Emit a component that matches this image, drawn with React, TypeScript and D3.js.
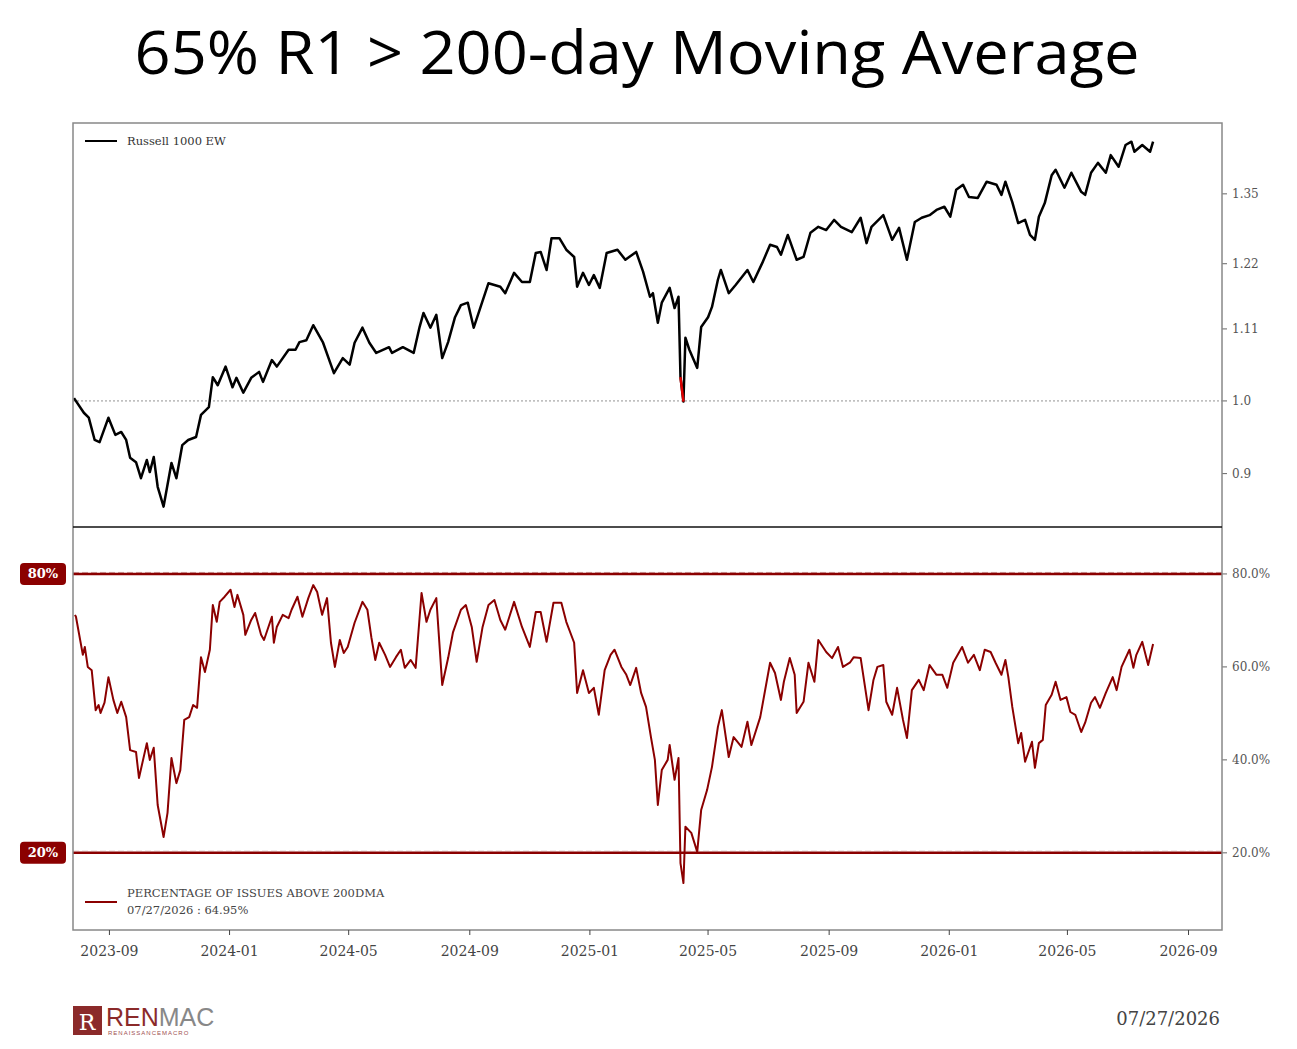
import * as d3 from 'd3';

const r1Dates = ['2023-07-27','2023-08-06','2023-08-11','2023-08-17','2023-08-22','2023-08-31','2023-09-07','2023-09-13','2023-09-18','2023-09-22','2023-09-28','2023-10-03','2023-10-09','2023-10-12','2023-10-16','2023-10-20','2023-10-26','2023-11-03','2023-11-08','2023-11-14','2023-11-20','2023-11-28','2023-12-03','2023-12-11','2023-12-15','2023-12-20','2023-12-28','2024-01-04','2024-01-08','2024-01-15','2024-01-23','2024-01-31','2024-02-04','2024-02-13','2024-02-18','2024-03-01','2024-03-08','2024-03-12','2024-03-19','2024-03-26','2024-04-05','2024-04-16','2024-04-25','2024-05-02','2024-05-07','2024-05-15','2024-05-22','2024-05-29','2024-06-11','2024-06-14','2024-06-25','2024-07-06','2024-07-12','2024-07-16','2024-07-23','2024-07-29','2024-08-04','2024-08-10','2024-08-17','2024-08-23','2024-08-30','2024-09-05','2024-09-12','2024-09-20','2024-10-02','2024-10-07','2024-10-16','2024-10-24','2024-11-01','2024-11-07','2024-11-12','2024-11-18','2024-11-23','2024-12-01','2024-12-08','2024-12-16','2024-12-19','2024-12-25','2024-12-31','2025-01-05','2025-01-11','2025-01-18','2025-01-29','2025-02-06','2025-02-17','2025-02-24','2025-03-03','2025-03-06','2025-03-11','2025-03-15','2025-03-23','2025-03-28','2025-04-01','2025-04-03','2025-04-06','2025-04-08','2025-04-12','2025-04-20','2025-04-24','2025-05-01','2025-05-05','2025-05-11','2025-05-14','2025-05-22','2025-05-29','2025-06-10','2025-06-16','2025-06-25','2025-07-03','2025-07-10','2025-07-14','2025-07-21','2025-07-30','2025-08-06','2025-08-13','2025-08-21','2025-08-29','2025-09-06','2025-09-13','2025-09-24','2025-10-03','2025-10-09','2025-10-14','2025-10-26','2025-11-04','2025-11-11','2025-11-19','2025-11-27','2025-12-04','2025-12-12','2025-12-19','2025-12-27','2026-01-02','2026-01-08','2026-01-15','2026-01-21','2026-01-30','2026-02-08','2026-02-18','2026-02-23','2026-02-27','2026-03-06','2026-03-12','2026-03-19','2026-03-24','2026-03-29','2026-04-02','2026-04-08','2026-04-15','2026-04-19','2026-04-28','2026-05-05','2026-05-15','2026-05-19','2026-05-25','2026-06-01','2026-06-09','2026-06-14','2026-06-22','2026-06-29','2026-07-05','2026-07-08','2026-07-16','2026-07-24','2026-07-27'];
const r1Values = [1.004,0.983,0.976,0.945,0.942,0.976,0.952,0.956,0.945,0.921,0.915,0.894,0.918,0.902,0.922,0.883,0.858,0.914,0.894,0.938,0.945,0.949,0.980,0.991,1.035,1.023,1.051,1.020,1.034,1.012,1.034,1.043,1.028,1.061,1.051,1.077,1.077,1.089,1.092,1.116,1.088,1.041,1.064,1.054,1.088,1.112,1.088,1.072,1.081,1.072,1.081,1.072,1.113,1.136,1.112,1.133,1.064,1.089,1.129,1.149,1.153,1.112,1.146,1.186,1.180,1.169,1.204,1.188,1.188,1.239,1.241,1.209,1.266,1.266,1.245,1.232,1.180,1.204,1.183,1.200,1.178,1.239,1.245,1.227,1.241,1.206,1.163,1.169,1.120,1.153,1.178,1.144,1.163,1.035,0.999,1.096,1.077,1.049,1.113,1.129,1.146,1.192,1.209,1.169,1.183,1.209,1.188,1.221,1.254,1.250,1.236,1.272,1.227,1.232,1.276,1.287,1.281,1.300,1.287,1.277,1.304,1.257,1.287,1.309,1.263,1.285,1.227,1.296,1.304,1.309,1.319,1.325,1.306,1.358,1.368,1.344,1.342,1.374,1.368,1.348,1.374,1.334,1.294,1.300,1.272,1.263,1.306,1.332,1.387,1.398,1.362,1.392,1.354,1.348,1.392,1.412,1.392,1.428,1.404,1.449,1.456,1.435,1.449,1.435,1.456];

const pctDates = ['2023-07-28','2023-07-29','2023-08-05','2023-08-07','2023-08-10','2023-08-14','2023-08-18','2023-08-21','2023-08-23','2023-08-27','2023-08-31','2023-09-05','2023-09-09','2023-09-13','2023-09-18','2023-09-22','2023-09-28','2023-10-01','2023-10-09','2023-10-12','2023-10-16','2023-10-20','2023-10-26','2023-10-30','2023-11-03','2023-11-08','2023-11-12','2023-11-16','2023-11-21','2023-11-25','2023-11-29','2023-12-03','2023-12-07','2023-12-12','2023-12-15','2023-12-19','2023-12-22','2023-12-27','2024-01-02','2024-01-06','2024-01-09','2024-01-15','2024-01-17','2024-01-23','2024-01-27','2024-02-02','2024-02-05','2024-02-13','2024-02-15','2024-02-18','2024-02-24','2024-03-01','2024-03-04','2024-03-10','2024-03-15','2024-03-21','2024-03-26','2024-03-30','2024-04-04','2024-04-09','2024-04-13','2024-04-17','2024-04-22','2024-04-26','2024-04-30','2024-05-07','2024-05-15','2024-05-20','2024-05-24','2024-05-28','2024-06-01','2024-06-07','2024-06-12','2024-06-18','2024-06-23','2024-06-27','2024-07-03','2024-07-08','2024-07-14','2024-07-19','2024-07-23','2024-07-29','2024-08-04','2024-08-10','2024-08-15','2024-08-23','2024-08-28','2024-09-03','2024-09-08','2024-09-14','2024-09-20','2024-09-26','2024-10-02','2024-10-07','2024-10-16','2024-10-24','2024-11-01','2024-11-07','2024-11-12','2024-11-18','2024-11-25','2024-12-03','2024-12-08','2024-12-16','2024-12-19','2024-12-25','2024-12-31','2025-01-05','2025-01-10','2025-01-16','2025-01-22','2025-01-26','2025-02-02','2025-02-07','2025-02-11','2025-02-17','2025-02-22','2025-02-27','2025-03-04','2025-03-08','2025-03-11','2025-03-15','2025-03-21','2025-03-23','2025-03-28','2025-04-01','2025-04-03','2025-04-06','2025-04-08','2025-04-14','2025-04-20','2025-04-24','2025-04-30','2025-05-05','2025-05-11','2025-05-15','2025-05-22','2025-05-27','2025-06-04','2025-06-10','2025-06-14','2025-06-23','2025-07-03','2025-07-08','2025-07-14','2025-07-17','2025-07-23','2025-07-28','2025-07-30','2025-08-06','2025-08-11','2025-08-17','2025-08-21','2025-08-29','2025-09-04','2025-09-10','2025-09-15','2025-09-22','2025-09-26','2025-10-03','2025-10-11','2025-10-16','2025-10-20','2025-10-26','2025-10-29','2025-11-04','2025-11-09','2025-11-15','2025-11-19','2025-11-24','2025-12-01','2025-12-06','2025-12-12','2025-12-19','2025-12-25','2025-12-30','2026-01-05','2026-01-14','2026-01-20','2026-01-26','2026-02-01','2026-02-06','2026-02-12','2026-02-17','2026-02-23','2026-02-27','2026-03-02','2026-03-06','2026-03-12','2026-03-15','2026-03-19','2026-03-26','2026-03-29','2026-04-02','2026-04-06','2026-04-09','2026-04-15','2026-04-19','2026-04-24','2026-04-30','2026-05-04','2026-05-09','2026-05-15','2026-05-19','2026-05-25','2026-05-29','2026-06-03','2026-06-09','2026-06-16','2026-06-20','2026-06-25','2026-07-03','2026-07-07','2026-07-10','2026-07-16','2026-07-22','2026-07-27'];
const pctValues = [71.2,70.8,62.6,64.3,60.0,59.3,50.7,51.8,50.1,52.3,57.8,52.9,50.1,52.5,49.2,42.1,41.7,36.1,43.6,40.0,42.6,30.3,23.4,28.6,40.4,35.0,37.8,48.6,49.2,51.8,51.2,62.1,58.9,63.7,73.3,69.7,74.0,75.1,76.6,72.9,75.5,71.2,66.9,70.1,71.6,66.9,65.8,70.8,65.2,68.6,71.2,70.5,72.3,75.1,70.8,74.8,77.6,76.1,71.2,74.8,65.2,60.0,65.8,63.0,64.3,69.5,74.0,72.3,66.4,61.5,65.2,62.6,60.0,62.1,63.7,59.8,61.5,59.8,75.9,69.7,72.3,74.8,56.1,61.9,67.5,72.3,73.3,68.6,61.1,68.6,73.3,74.4,70.1,68.0,74.0,68.6,64.3,71.8,71.8,65.4,73.8,73.8,69.7,65.2,54.4,59.3,54.4,55.5,49.7,59.3,62.6,63.7,60.0,58.3,56.1,59.8,54.4,51.4,44.9,40.0,30.3,37.8,40.0,43.2,35.7,40.4,17.8,13.5,25.6,24.3,20.2,29.2,33.5,38.5,47.1,50.7,40.6,44.9,42.8,48.2,43.2,49.2,60.9,58.7,52.9,56.8,61.9,58.3,50.1,52.5,60.9,56.8,65.8,63.2,61.9,64.3,60.0,60.9,62.1,61.9,50.7,57.2,60.0,60.4,52.5,49.7,55.5,48.6,44.7,55.0,57.2,55.0,60.4,58.3,58.3,55.5,60.9,64.3,60.9,62.6,59.3,63.7,63.2,60.9,58.3,61.5,57.8,51.4,43.6,45.8,39.6,43.9,38.3,43.6,44.3,51.8,54.0,56.8,52.9,53.5,50.3,49.7,46.0,48.0,52.3,53.5,51.2,54.4,57.8,55.0,60.0,63.7,59.8,62.6,65.4,60.4,64.95];

const r1Ticks = [0.9, 1.0, 1.11, 1.22, 1.35];
const r1TickLabels = ['0.9', '1.0', '1.11', '1.22', '1.35'];
const pctTicks = [20, 40, 60, 80];
const bands = [20, 80];
const xTicks = ['2023-09-01','2024-01-01','2024-05-01','2024-09-01','2025-01-01','2025-05-01','2025-09-01','2026-01-01','2026-05-01','2026-09-01'];

const serif = "'DejaVu Serif', 'Liberation Serif', serif";
const red = '#8b0000';

export default function App() {
  const L = 73, R = 1222, T = 123, MID = 527, B = 930;
  const parse = d3.timeParse('%Y-%m-%d');
  const x = d3.scaleTime()
    .domain([parse('2023-07-26')!, parse('2026-10-05')!])
    .range([L, R]);
  const yTop = d3.scaleLog().domain([0.833, 1.496]).range([MID, T]);
  const yBot = d3.scaleLinear().domain([3.4, 90.1]).range([B, MID]);

  const r1 = r1Dates.map((d, i) => ({ d: parse(d)!, v: r1Values[i] }));
  const pct = pctDates.map((d, i) => ({ d: parse(d)!, v: pctValues[i] }));
  const lineTop = d3.line<{ d: Date; v: number }>().x(p => x(p.d)).y(p => yTop(p.v));
  const lineBot = d3.line<{ d: Date; v: number }>().x(p => x(p.d)).y(p => yBot(p.v));
  const dropIdx = r1Values.indexOf(d3.min(r1Values.slice(80))!);
  const redSeg = r1.slice(dropIdx - 1, dropIdx + 1);

  return (
    <svg width={1297} height={1049} style={{ position: 'absolute', left: 0, top: 0, background: '#fff' }}>
      <text x={637} y={74} textAnchor="middle" fontFamily="'Open Sans', sans-serif" fontSize={60} fill="#000" textLength={1005} lengthAdjust="spacingAndGlyphs">
        65% R1 &gt; 200-day Moving Average
      </text>

      {/* top panel */}
      <line x1={L} x2={R} y1={yTop(1)} y2={yTop(1)} stroke="#777" strokeWidth={0.8} strokeDasharray="2,2" />
      <path d={lineTop(r1)!} fill="none" stroke="#000" strokeWidth={2.5} strokeLinejoin="round" />
      <path d={lineTop(redSeg)!} fill="none" stroke="#e00000" strokeWidth={2.5} />
      {r1Ticks.map((t, i) => (
        <g key={t} transform={`translate(${R},${yTop(t)})`}>
          <line x2={5} stroke="#666" />
          <text x={10} dy="0.35em" fontFamily={serif} fontSize={12} fill="#555">{r1TickLabels[i]}</text>
        </g>
      ))}
      <line x1={85} x2={117} y1={141} y2={141} stroke="#000" strokeWidth={2} />
      <text x={127} y={145} fontFamily={serif} fontSize={11.5} fill="#333">Russell 1000 EW</text>

      {/* bottom panel */}
      {bands.map(b => (
        <g key={b}>
          <line x1={L} x2={R} y1={yBot(b)} y2={yBot(b)} stroke={red} strokeWidth={2.5} />
          <line x1={L} x2={R} y1={yBot(b) - 1.5} y2={yBot(b) - 1.5} stroke="#c08080" strokeWidth={1} strokeDasharray="6,3" />
          <rect x={20} y={yBot(b) - 11} width={46} height={22} rx={4} fill={red} />
          <text x={43} y={yBot(b)} dy="0.35em" textAnchor="middle" fontFamily={serif} fontSize={13} fontWeight="bold" fill="#fff">{b}%</text>
        </g>
      ))}
      <path d={lineBot(pct)!} fill="none" stroke={red} strokeWidth={2} strokeLinejoin="round" />
      {pctTicks.map(t => (
        <g key={t} transform={`translate(${R},${yBot(t)})`}>
          <line x2={5} stroke="#666" />
          <text x={10} dy="0.35em" fontFamily={serif} fontSize={12} fill="#555">{t.toFixed(1)}%</text>
        </g>
      ))}
      <line x1={85} x2={117} y1={902} y2={902} stroke={red} strokeWidth={2} />
      <text x={127} y={897} fontFamily={serif} fontSize={11.5} fill="#444">PERCENTAGE OF ISSUES ABOVE 200DMA</text>
      <text x={127} y={914} fontFamily={serif} fontSize={11.5} fill="#444">07/27/2026 : 64.95%</text>

      {/* frame */}
      <rect x={L} y={T} width={R - L} height={B - T} fill="none" stroke="#888" strokeWidth={1.5} />
      <line x1={L} x2={R} y1={MID} y2={MID} stroke="#111" strokeWidth={1.5} />

      {/* x axis */}
      {xTicks.map(t => (
        <g key={t} transform={`translate(${x(parse(t)!)},${B})`}>
          <line y2={5} stroke="#444" />
          <text y={26} textAnchor="middle" fontFamily={serif} fontSize={14} fill="#444">{t.slice(0, 7)}</text>
        </g>
      ))}

      {/* footer */}
      <rect x={73} y={1006} width={29} height={29} fill="#8b2a2a" />
      <text x={87} y={1030} textAnchor="middle" fontFamily={serif} fontSize={22} fill="#fff">R</text>
      <text x={106} y={1026} fontFamily="'Liberation Sans', sans-serif" fontSize={25} fill="#8b2a2a">REN<tspan fill="#888">MAC</tspan></text>
      <text x={108} y={1035} fontFamily="'Liberation Sans', sans-serif" fontSize={6} fill="#a05050" letterSpacing={1}>RENAISSANCEMACRO</text>
      <text x={1220} y={1025} textAnchor="end" fontFamily={serif} fontSize={18} fill="#444">07/27/2026</text>
    </svg>
  );
}
